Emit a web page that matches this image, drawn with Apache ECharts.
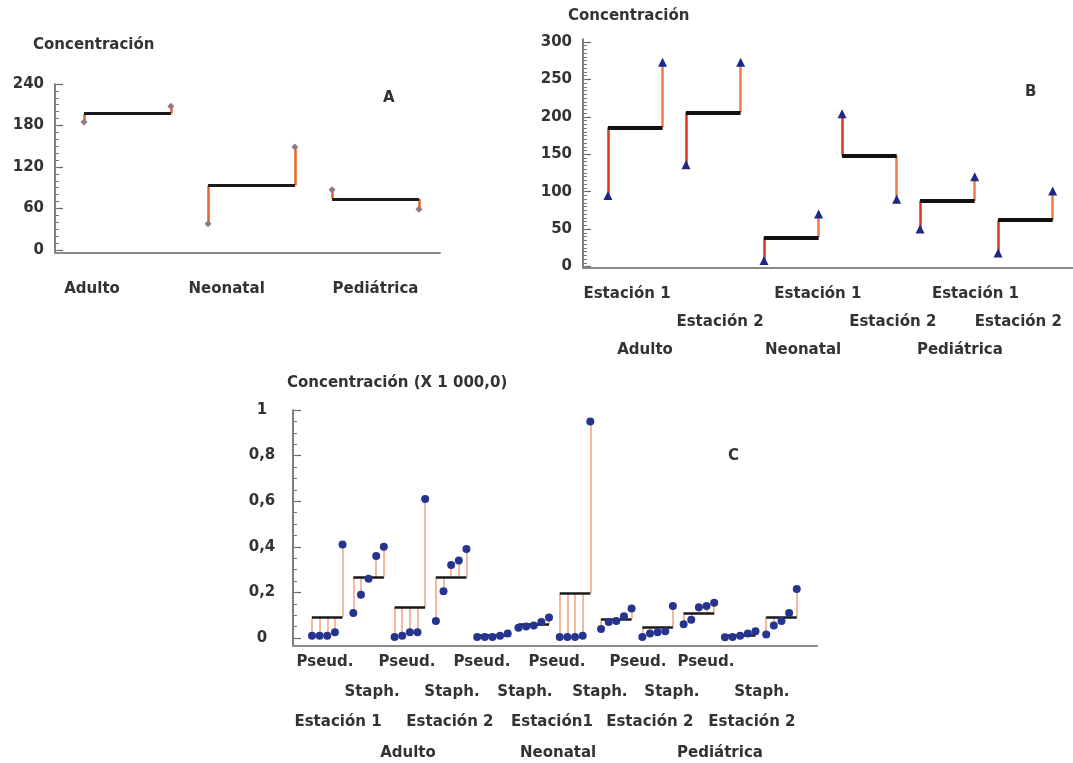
<!DOCTYPE html>
<html>
<head>
<meta charset="utf-8">
<title>Concentración</title>
<script src="https://cdn.jsdelivr.net/npm/echarts@6/dist/echarts.min.js"></script>
<style>
html, body { margin: 0; padding: 0; background: #fff; }
#chart { width: 1073px; height: 763px; }
</style>
</head>
<body>
<div id="chart"></div>
<script>
// ---- data ----
// A: two stations per unit, mean between them
var groupsA = ['Adulto', 'Neonatal', 'Pediátrica'];
var leftA = [185, 38, 87];
var rightA = [208, 149, 59];
var meanA = [197, 93, 74];
var ticksA = [0, 60, 120, 180, 240];

// B: unit x station, two values each
var stationsB = ['Estación 1', 'Estación 2'];
var groupsB = ['Adulto', 'Neonatal', 'Pediátrica'];
var leftB = [95, 136, 8, 204, 50, 18];
var rightB = [273, 273, 70, 90, 120, 101];
var meanB = [186, 206, 39, 148, 88, 62];
var ticksB = [0, 50, 100, 150, 200, 250, 300];

// C: unit x station x bacteria, five values each (x 1000)
var bacteriaC = ['Pseud.', 'Staph.'];
var stationsC = ['Estación 1', 'Estación 2', 'Estación1', 'Estación 2', 'Estación 2'];
var groupsC = ['Adulto', 'Neonatal', 'Pediátrica'];
var valuesC = [
  [0.01, 0.01, 0.01, 0.025, 0.41],
  [0.11, 0.19, 0.26, 0.36, 0.40],
  [0.005, 0.01, 0.025, 0.025, 0.61],
  [0.075, 0.205, 0.32, 0.34, 0.39],
  [0.005, 0.005, 0.005, 0.01, 0.02],
  [0.045, 0.05, 0.055, 0.07, 0.09],
  [0.005, 0.005, 0.005, 0.01, 0.95],
  [0.04, 0.07, 0.075, 0.095, 0.13],
  [0.005, 0.02, 0.025, 0.03, 0.14],
  [0.06, 0.08, 0.135, 0.14, 0.155],
  [0.003, 0.005, 0.01, 0.02, 0.03],
  [0.015, 0.055, 0.075, 0.11, 0.215]
];
var meanC = [0.093, 0.265, 0.135, 0.265, 0.01, 0.062, 0.195, 0.083, 0.047, 0.11, 0.013, 0.093];
var ticksC = [0, 0.2, 0.4, 0.6, 0.8, 1];

// ---- layout (axis units) ----
var widthA = 0.7, widthB = 0.7, stepC = 0.185;
var labelPosA = [0.065, 1.15, 2.35];
var st1PosB = [0.244, 2.69, 4.71];
var st2PosB = [1.436, 3.65, 5.26];
var groupPosB = [0.475, 2.5, 4.51];
var pseudPosC = [0.315, 2.3, 4.116, 5.932, 7.894, 9.54];
var staphPosC = [1.453, 3.39, 5.157, 6.973, 8.717, 10.896];
var stationPosC = [0.63, 3.34, 5.811, 8.18, 10.654];
var groupPosC = [2.325, 5.96, 9.88];

var FONT = 'DejaVu Sans';
var TXT = '#333333';

function nearest(arr, v) {
  var best = 0;
  for (var i = 1; i < arr.length; i++) {
    if (Math.abs(arr[i] - v) < Math.abs(arr[best] - v)) best = i;
  }
  return best;
}

function repeatTexts(text, n) {
  var out = [];
  for (var i = 0; i < n; i++) out.push(text);
  return out;
}

function xAxisRow(grid, min, max, pos, texts, margin, showLine) {
  return {
    type: 'value', gridIndex: grid, position: 'bottom', offset: 0,
    min: min, max: max,
    axisLine: { show: !!showLine, onZero: false, lineStyle: { color: '#8a8a8a', width: 2 } },
    axisTick: { show: false },
    splitLine: { show: false },
    axisLabel: {
      customValues: pos, margin: margin, verticalAlign: 'middle',
      fontFamily: FONT, fontSize: 15, fontWeight: 'bold', color: TXT,
      formatter: function (v) { return texts[nearest(pos, v)]; }
    }
  };
}

function yMajor(grid, min, max, ticks, margin, align, fmt) {
  return {
    type: 'value', gridIndex: grid, position: 'left', offset: 0,
    min: min, max: max,
    axisLine: { show: true, onZero: false, lineStyle: { color: '#555', width: 1.5 } },
    axisTick: { show: true, inside: true, length: 8, customValues: ticks, lineStyle: { color: '#666', width: 1.2 } },
    axisLabel: {
      customValues: ticks, margin: margin, align: align,
      fontFamily: FONT, fontSize: 15, fontWeight: 'bold', color: TXT,
      formatter: fmt
    },
    splitLine: { show: false }
  };
}

function yMinor(grid, min, max, step) {
  var vals = [];
  for (var k = 0; k * step <= max + 1e-9; k++) vals.push(+(k * step).toFixed(4));
  return {
    type: 'value', gridIndex: grid, position: 'left', offset: 0,
    min: min, max: max,
    axisLine: { show: false, onZero: false },
    axisTick: { show: true, inside: true, length: 4, customValues: vals, lineStyle: { color: '#777', width: 1 } },
    axisLabel: { show: false },
    splitLine: { show: false }
  };
}

// ---- build marks ----
var meanLinesA = [], stemsA = [], pointsA = [];
groupsA.forEach(function (g, i) {
  var x0 = i, x1 = i + widthA;
  meanLinesA.push({ coords: [[x0, meanA[i]], [x1, meanA[i]]] });
  stemsA.push({ coords: [[x0, meanA[i]], [x0, leftA[i]]] });
  stemsA.push({ coords: [[x1, meanA[i]], [x1, rightA[i]]] });
  pointsA.push([x0, leftA[i]], [x1, rightA[i]]);
});

var meanLinesB = [], stemsB = [], pointsB = [];
leftB.forEach(function (v, j) {
  var x0 = j, x1 = j + widthB;
  meanLinesB.push({ coords: [[x0, meanB[j]], [x1, meanB[j]]] });
  stemsB.push({ coords: [[x0, meanB[j]], [x0, leftB[j]]], lineStyle: { color: '#e2331f' } });
  stemsB.push({ coords: [[x1, meanB[j]], [x1, rightB[j]]], lineStyle: { color: '#f07a45' } });
  pointsB.push([x0, leftB[j]], [x1, rightB[j]]);
});

var meanLinesC = [], stemsC = [], pointsC = [];
valuesC.forEach(function (vals, k) {
  var last = k + (vals.length - 1) * stepC;
  meanLinesC.push({ coords: [[k, meanC[k]], [last, meanC[k]]] });
  vals.forEach(function (v, i) {
    var x = k + i * stepC;
    stemsC.push({ coords: [[x, meanC[k]], [x, v]] });
    pointsC.push([x, v]);
  });
});

var minAx = -0.234, maxAx = 2.87;
var minBx = -0.32, maxBx = 5.96;
var minCx = -0.46, maxCx = 12.23;

var option = {
  animation: false,
  backgroundColor: '#ffffff',
  textStyle: { fontFamily: FONT },
  grid: [
    { left: 55, top: 84, width: 385, height: 169 },
    { left: 583, top: 39, width: 490, height: 229 },
    { left: 293, top: 410, width: 524, height: 236 }
  ],
  xAxis: [
    xAxisRow(0, minAx, maxAx, labelPosA, groupsA, 36, true),
    xAxisRow(1, minBx, maxBx, st1PosB, repeatTexts(stationsB[0], 3), 26, true),
    xAxisRow(1, minBx, maxBx, st2PosB, repeatTexts(stationsB[1], 3), 54, false),
    xAxisRow(1, minBx, maxBx, groupPosB, groupsB, 82, false),
    xAxisRow(2, minCx, maxCx, pseudPosC, repeatTexts(bacteriaC[0], 6), 16, true),
    xAxisRow(2, minCx, maxCx, staphPosC, repeatTexts(bacteriaC[1], 6), 46, false),
    xAxisRow(2, minCx, maxCx, stationPosC, stationsC, 76, false),
    xAxisRow(2, minCx, maxCx, groupPosC, groupsC, 107, false)
  ],
  yAxis: [
    yMajor(0, -4.4, 240, ticksA, 11, 'right', function (v) { return String(v); }),
    yMinor(0, -4.4, 240, 10),
    yMajor(1, -2, 304, ticksB, 11, 'right', function (v) { return String(v); }),
    yMinor(1, -2, 304, 5),
    yMajor(2, -0.035, 1, ticksC, 31, 'center', function (v) { return String(v).replace('.', ','); }),
    yMinor(2, -0.035, 1, 0.05)
  ],
  series: [
    { type: 'lines', coordinateSystem: 'cartesian2d', xAxisIndex: 0, yAxisIndex: 0, z: 2,
      lineStyle: { color: '#e8642c', width: 2.5, opacity: 1 }, data: stemsA },
    { type: 'lines', coordinateSystem: 'cartesian2d', xAxisIndex: 0, yAxisIndex: 0, z: 3,
      lineStyle: { color: '#1a1a1a', width: 3, opacity: 1 }, data: meanLinesA },
    { type: 'scatter', xAxisIndex: 0, yAxisIndex: 0, z: 4, symbol: 'diamond', symbolSize: 7,
      itemStyle: { color: '#8e7a86', opacity: 1 }, data: pointsA },

    { type: 'lines', coordinateSystem: 'cartesian2d', xAxisIndex: 1, yAxisIndex: 2, z: 2,
      lineStyle: { width: 2.5, opacity: 1 }, data: stemsB },
    { type: 'lines', coordinateSystem: 'cartesian2d', xAxisIndex: 1, yAxisIndex: 2, z: 3,
      lineStyle: { color: '#111111', width: 4, opacity: 1 }, data: meanLinesB },
    { type: 'scatter', xAxisIndex: 1, yAxisIndex: 2, z: 4, symbol: 'triangle', symbolSize: 9,
      itemStyle: { color: '#1f2886', opacity: 1 }, data: pointsB },

    { type: 'lines', coordinateSystem: 'cartesian2d', xAxisIndex: 4, yAxisIndex: 4, z: 2,
      lineStyle: { color: '#f2a27e', width: 1.5, opacity: 1 }, data: stemsC },
    { type: 'lines', coordinateSystem: 'cartesian2d', xAxisIndex: 4, yAxisIndex: 4, z: 3,
      lineStyle: { color: '#1a1a1a', width: 2.5, opacity: 1 }, data: meanLinesC },
    { type: 'scatter', xAxisIndex: 4, yAxisIndex: 4, z: 4, symbol: 'circle', symbolSize: 8,
      itemStyle: { color: '#27348f', opacity: 1 }, data: pointsC }
  ],
  graphic: [
    { type: 'text', left: 33, top: 38, style: { text: 'Concentración', font: 'bold 15px "DejaVu Sans"', fill: TXT } },
    { type: 'text', left: 568, top: 9, style: { text: 'Concentración', font: 'bold 15px "DejaVu Sans"', fill: TXT } },
    { type: 'text', left: 287, top: 376, style: { text: 'Concentración (X 1 000,0)', font: 'bold 15px "DejaVu Sans"', fill: TXT } },
    { type: 'text', left: 383, top: 91, style: { text: 'A', font: 'bold 15px "DejaVu Sans"', fill: TXT } },
    { type: 'text', left: 1025, top: 85, style: { text: 'B', font: 'bold 15px "DejaVu Sans"', fill: TXT } },
    { type: 'text', left: 728, top: 449, style: { text: 'C', font: 'bold 15px "DejaVu Sans"', fill: TXT } }
  ]
};

var myChart = echarts.init(document.getElementById('chart'));
myChart.setOption(option, true);

window.onresize = function () {
  myChart.resize();
};
</script>
</body>
</html>
